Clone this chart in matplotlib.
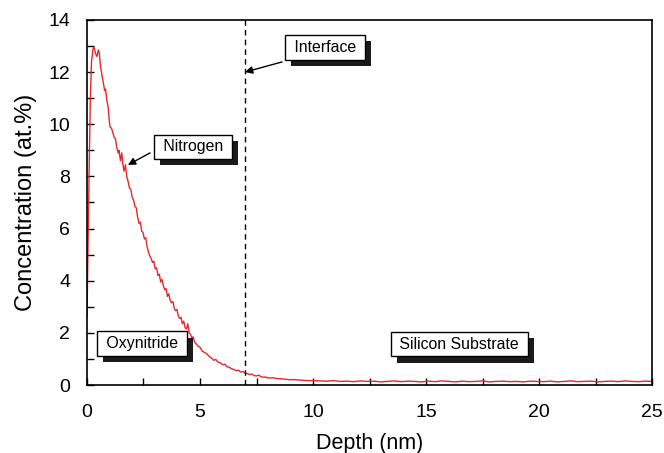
import matplotlib.pyplot as plt
import matplotlib.patheffects as pe
from matplotlib.ticker import MultipleLocator

plt.rcParams['font.family'] = ['Liberation Sans', 'DejaVu Sans']

# nitrogen depth profile (nm, at.%)
depth = [0.00, 0.05, 0.10, 0.15, 0.20, 0.27, 0.32, 0.38, 0.44, 0.50,
         0.55, 0.60, 0.66, 0.72, 0.78, 0.82, 0.88, 0.93, 0.98, 1.02,
         1.08, 1.14, 1.20, 1.26, 1.32, 1.38, 1.42, 1.48, 1.54, 1.58,
         1.64, 1.70, 1.76, 1.82, 1.88, 1.94, 2.00, 2.06, 2.12, 2.18,
         2.24, 2.30, 2.36, 2.42, 2.48, 2.54, 2.60, 2.66, 2.72, 2.78,
         2.84, 2.90, 2.96, 3.02, 3.08, 3.14, 3.20, 3.26, 3.32, 3.38,
         3.44, 3.50, 3.56, 3.62, 3.68, 3.74, 3.80, 3.86, 3.92, 3.98,
         4.04, 4.10, 4.16, 4.22, 4.28, 4.34, 4.40, 4.46, 4.52, 4.58,
         4.64, 4.70, 4.76, 4.82, 4.90, 5.00, 5.10, 5.20, 5.30, 5.40,
         5.50, 5.60, 5.70, 5.80, 5.90, 6.00, 6.10, 6.20, 6.30, 6.40,
         6.50, 6.60, 6.70, 6.80, 6.90, 7.00, 7.10, 7.20, 7.30, 7.40,
         7.50, 7.60, 7.70, 7.80, 7.90, 8.00, 8.20, 8.40, 8.60, 8.80,
         9.00, 9.20, 9.40, 9.60, 9.80, 10.0, 10.3, 10.6, 10.9, 11.2,
         11.5, 11.8, 12.1, 12.4, 12.7, 13.0, 13.3, 13.6, 13.9, 14.2,
         14.5, 14.8, 15.1, 15.4, 15.7, 16.0, 16.3, 16.6, 16.9, 17.2,
         17.5, 17.8, 18.1, 18.4, 18.7, 19.0, 19.3, 19.6, 19.9, 20.2,
         20.5, 20.8, 21.1, 21.4, 21.7, 22.0, 22.3, 22.6, 22.9, 23.2,
         23.5, 23.8, 24.1, 24.4, 24.7, 25.0]
nitrogen = [2.6, 5.5, 8.5, 11.0, 12.4, 12.9, 12.95, 12.7, 12.6, 12.85,
            12.7, 12.2, 11.9, 11.6, 11.3, 11.35, 10.9, 10.7, 10.2, 9.9,
            9.85, 9.7, 9.5, 9.45, 9.1, 8.9, 9.0, 8.6, 8.9, 8.5,
            8.2, 8.45, 8.0, 7.8, 7.55, 7.5, 7.2, 7.1, 6.85, 6.8,
            6.45, 6.2, 6.25, 5.9, 5.85, 5.6, 5.65, 5.3, 5.1, 4.95,
            4.85, 4.7, 4.75, 4.45, 4.5, 4.2, 4.25, 3.95, 4.05, 3.8,
            3.65, 3.7, 3.4, 3.5, 3.25, 3.15, 3.2, 2.95, 2.85, 2.9,
            2.65, 2.55, 2.6, 2.35, 2.45, 2.2, 2.15, 2.35, 2.0, 1.95,
            1.8, 1.85, 1.65, 1.6, 1.5, 1.45, 1.3, 1.25, 1.2, 1.1,
            1.05, 0.95, 0.98, 0.88, 0.85, 0.78, 0.8, 0.7, 0.68, 0.62,
            0.6, 0.55, 0.57, 0.5, 0.52, 0.45, 0.44, 0.4, 0.42, 0.36,
            0.35, 0.38, 0.32, 0.3, 0.31, 0.27, 0.28, 0.25, 0.24, 0.22,
            0.2, 0.21, 0.19, 0.18, 0.17, 0.17, 0.16, 0.15, 0.17, 0.14,
            0.15, 0.13, 0.16, 0.14, 0.15, 0.12, 0.14, 0.16, 0.13, 0.15,
            0.14, 0.12, 0.15, 0.13, 0.16, 0.14, 0.12, 0.15, 0.13, 0.14,
            0.16, 0.12, 0.14, 0.15, 0.13, 0.14, 0.12, 0.15, 0.14, 0.13,
            0.15, 0.12, 0.14, 0.16, 0.13, 0.14, 0.15, 0.12, 0.14, 0.15,
            0.13, 0.16, 0.14, 0.13, 0.15, 0.14]

interface_depth = 7.0

fig = plt.figure(figsize=(6.64, 4.53), dpi=100)
ax = fig.add_axes([0.131, 0.150, 0.851, 0.806])

ax.plot(depth, nitrogen, color='#e8262d', lw=1.0)
ax.axvline(interface_depth, color='black', lw=1.0, ls=(0, (4, 3)))

ax.set_xlim(0, 25)
ax.set_ylim(0, 14)
ax.xaxis.set_major_locator(MultipleLocator(5))
ax.xaxis.set_minor_locator(MultipleLocator(2.5))
ax.yaxis.set_major_locator(MultipleLocator(2))
ax.yaxis.set_minor_locator(MultipleLocator(1))
ax.tick_params(which='both', direction='in', length=5, width=1,
               top=False, right=False, labelsize=14)
ax.tick_params(axis='x', pad=14)
ax.tick_params(axis='y', pad=12)
for s in ax.spines.values():
    s.set_linewidth(1.2)
ax.set_xlabel('Depth (nm)', fontsize=15.5, labelpad=8)
ax.set_ylabel('Concentration (at.%)', fontsize=17, labelpad=8)

shadow = [pe.SimplePatchShadow(offset=(4.5, -4.5), shadow_rgbFace='#1a1a1a', alpha=1.0),
          pe.Normal()]
box = dict(boxstyle='square,pad=0.3', fc='white', ec='black', lw=1.0)
arrow = dict(arrowstyle='-|>', color='black', lw=1.0,
             mutation_scale=11, shrinkA=0, shrinkB=0)


def label(text, x, y):
    t = ax.text(x, y, ' ' + text + ' ', fontsize=11.4, ha='center',
                va='center', bbox=box, zorder=5)
    t.get_bbox_patch().set_path_effects(shadow)
    return t


label('Nitrogen', 4.69, 9.13)
ax.annotate('', xy=(1.81, 8.44), xytext=(2.79, 8.9), arrowprops=arrow)
label('Interface', 10.53, 12.95)
ax.annotate('', xy=(6.99, 12.0), xytext=(8.63, 12.39), arrowprops=arrow)
label('Oxynitride', 2.43, 1.59)
label('Silicon Substrate', 16.48, 1.57)

fig.savefig('out.png', dpi=100)
